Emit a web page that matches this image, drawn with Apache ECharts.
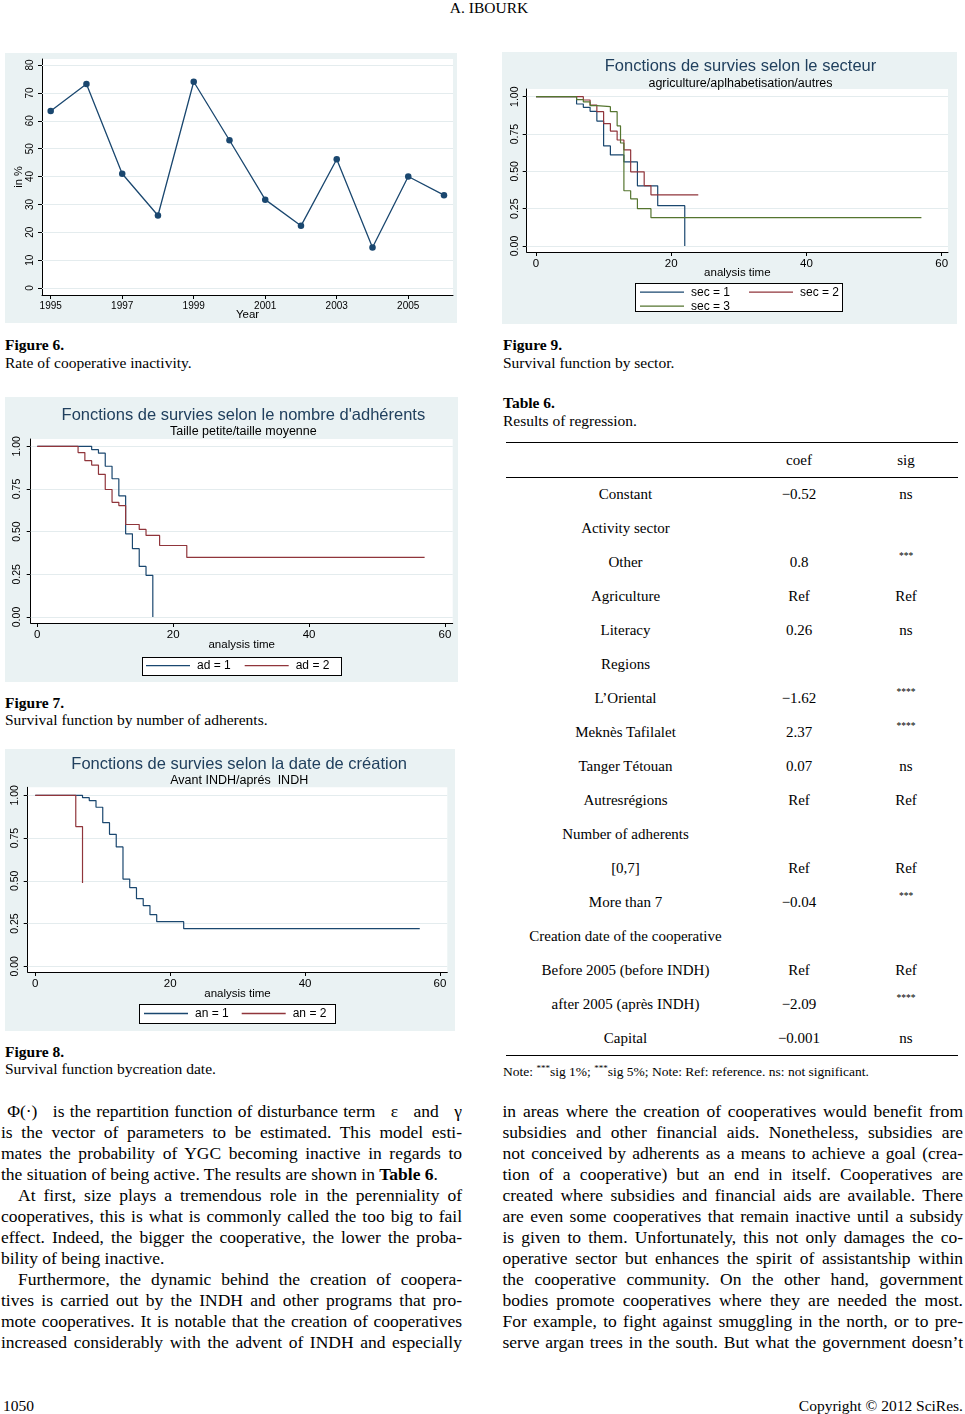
<!DOCTYPE html>
<html><head><meta charset="utf-8">
<script src="https://cdn.jsdelivr.net/npm/echarts@6/dist/echarts.min.js"></script>
<style>
html,body{margin:0;padding:0;background:#fff;}
body{width:965px;height:1414px;position:relative;overflow:hidden;font-family:"Liberation Serif","Times New Roman",serif;color:#000;}
.panel{position:absolute;background:#eaf2f3;}
.lgbox{position:absolute;background:#fff;border:1px solid #000;box-sizing:border-box;}
.chart{position:absolute;}
.t{position:absolute;white-space:nowrap;}
.cap{font-size:15.5px;line-height:18px;}
.ln{position:absolute;font-size:17.5px;line-height:21px;white-space:normal;}
.jl{text-align:justify;text-align-last:justify;}
.rule{position:absolute;left:506px;width:452px;height:1.3px;background:#000;}
.cell{position:absolute;font-size:15px;line-height:18px;text-align:center;white-space:nowrap;}
.star{position:absolute;font-size:9.5px;line-height:10px;text-align:center;white-space:nowrap;}
sup{font-size:9px;line-height:0;vertical-align:5px;}
</style>
</head>
<body>
<script>
// ---------------- DATA ----------------
const years = [1995,1996,1997,1998,1999,2000,2001,2002,2003,2004,2005,2006];
const inactivityRate = [63.5,73.2,41,26,74,53,31.7,22.3,46.2,14.5,40,33.3];
const yearTickLabels = [1995,1997,1999,2001,2003,2005];
const rateTickLabels = [0,10,20,30,40,50,60,70,80];
const timeTickLabels = [0,20,40,60];
const survTickLabels = [0,0.25,0.5,0.75,1];

const ad1Time = [0,8,9,10,11,12,13,14,15,16,17];
const ad1Surv = [1,0.98,0.96,0.883,0.81,0.71,0.487,0.40,0.296,0.244,0];
const ad2Time = [0,6,7,8,9,10,11,12,13,15,16,18,22,57];
const ad2Surv = [1,0.963,0.916,0.89,0.836,0.747,0.672,0.653,0.542,0.513,0.478,0.419,0.349,0.349];

const an1Time = [0,7,8,9,10,11,12,13,14,15,16,17,18,22,57];
const an1Surv = [1,0.986,0.969,0.93,0.84,0.772,0.698,0.51,0.46,0.396,0.355,0.302,0.261,0.22,0.22];
const an2Time = [0,6,7];
const an2Surv = [1,0.817,0.487];

const sec1Time = [0,6,7,8,9,10,11,13,15,18,22];
const sec1Surv = [1,0.951,0.929,0.902,0.837,0.67,0.61,0.563,0.403,0.27,0];
const sec2Time = [0,7,8,9,10,11,12,13,14,16,17,24];
const sec2Surv = [1,0.978,0.944,0.90,0.82,0.77,0.71,0.644,0.497,0.405,0.343,0.343];
const sec3Time = [0,6,7,8,9,11,12,12.5,13,14,15,17,57];
const sec3Surv = [1,0.98,0.965,0.94,0.933,0.90,0.805,0.69,0.37,0.316,0.25,0.19,0.19];

const tableHeader = ['', 'coef', 'sig'];
const tableRows = [
  ['Constant','\u22120.52','ns'],
  ['Activity sector','',''],
  ['Other','0.8','***'],
  ['Agriculture','Ref','Ref'],
  ['Literacy','0.26','ns'],
  ['Regions','',''],
  ['L\u2019Oriental','\u22121.62','****'],
  ['Mekn\u00e8s Tafilalet','2.37','****'],
  ['Tanger T\u00e9touan','0.07','ns'],
  ['Autresr\u00e9gions','Ref','Ref'],
  ['Number of adherents','',''],
  ['[0,7]','Ref','Ref'],
  ['More than 7','\u22120.04','***'],
  ['Creation date of the cooperative','',''],
  ['Before 2005 (before INDH)','Ref','Ref'],
  ['after 2005 (apr\u00e8s INDH)','\u22122.09','****'],
  ['Capital','\u22120.001','ns']
];
</script>

<!-- header / footer -->
<div class="t" style="left:0;width:978px;top:0;text-align:center;font-size:15.5px;line-height:16px;">A. IBOURK</div>
<div class="t" style="left:3px;top:1397px;font-size:15.5px;line-height:18px;">1050</div>
<div class="t" style="right:2px;top:1397px;font-size:15.5px;line-height:18px;">Copyright © 2012 SciRes.</div>

<!-- Figure 6 -->
<div class="panel" style="left:5px;top:53px;width:452px;height:270px;"></div>
<div class="chart" id="fig6"></div>
<div class="t cap" style="left:5px;top:336px;font-weight:bold;">Figure 6.</div>
<div class="t cap" style="left:5px;top:354px;">Rate of cooperative inactivity.</div>

<!-- Figure 9 -->
<div class="panel" style="left:502px;top:52px;width:455px;height:272px;"></div>
<div class="lgbox" style="left:635px;top:283px;width:208px;height:29px;"></div>
<div class="chart" id="fig9"></div>
<div class="t cap" style="left:503px;top:336px;font-weight:bold;">Figure 9.</div>
<div class="t cap" style="left:503px;top:354px;">Survival function by sector.</div>

<!-- Figure 7 -->
<div class="panel" style="left:5px;top:397px;width:453px;height:285px;"></div>
<div class="lgbox" style="left:141.7px;top:656.7px;width:200px;height:19px;"></div>
<div class="chart" id="fig7"></div>
<div class="t cap" style="left:5px;top:694px;font-weight:bold;">Figure 7.</div>
<div class="t cap" style="left:5px;top:711px;">Survival function by number of adherents.</div>

<!-- Figure 8 -->
<div class="panel" style="left:5px;top:749px;width:450px;height:282px;"></div>
<div class="lgbox" style="left:139.3px;top:1004px;width:196.7px;height:20px;"></div>
<div class="chart" id="fig8"></div>
<div class="t cap" style="left:5px;top:1043px;font-weight:bold;">Figure 8.</div>
<div class="t cap" style="left:5px;top:1060px;">Survival function bycreation date.</div>

<!-- Table 6 -->
<div class="t cap" style="left:503px;top:394px;font-weight:bold;">Table 6.</div>
<div class="t cap" style="left:503px;top:412px;">Results of regression.</div>
<div class="rule" style="top:442px;"></div>
<div class="rule" style="top:476.5px;"></div>
<div class="rule" style="top:1055px;"></div>
<div id="table"></div>
<div class="t" style="left:503px;top:1063px;font-size:13.5px;line-height:18px;">Note: <sup>***</sup>sig 1%; <sup>***</sup>sig 5%; Note: Ref: reference. ns: not significant.</div>

<!-- Body text left -->
<div class="ln jl" style="left:2px;width:460px;top:1101px;">&nbsp;Φ(·)&nbsp;&nbsp; is the repartition function of disturbance term &nbsp;&nbsp;ε&nbsp;&nbsp; and &nbsp;&nbsp;γ</div>
<div class="ln jl" style="left:1px;width:461px;top:1122px;">is the vector of parameters to be estimated. This model esti-</div>
<div class="ln jl" style="left:1px;width:461px;top:1143px;">mates the probability of YGC becoming inactive in regards to</div>
<div class="ln" style="left:1px;width:461px;top:1164px;">the situation of being active. The results are shown in <b>Table 6</b>.</div>
<div class="ln jl" style="left:1px;width:461px;top:1185px;text-indent:17px;">At first, size plays a tremendous role in the perenniality of</div>
<div class="ln jl" style="left:1px;width:461px;top:1206px;">cooperatives, this is what is commonly called the too big to fail</div>
<div class="ln jl" style="left:1px;width:461px;top:1227px;">effect. Indeed, the bigger the cooperative, the lower the proba-</div>
<div class="ln" style="left:1px;width:461px;top:1248px;">bility of being inactive.</div>
<div class="ln jl" style="left:1px;width:461px;top:1269px;text-indent:17px;">Furthermore, the dynamic behind the creation of coopera-</div>
<div class="ln jl" style="left:1px;width:461px;top:1290px;">tives is carried out by the INDH and other programs that pro-</div>
<div class="ln jl" style="left:1px;width:461px;top:1311px;">mote cooperatives. It is notable that the creation of cooperatives</div>
<div class="ln jl" style="left:1px;width:461px;top:1332px;">increased considerably with the advent of INDH and especially</div>

<!-- Body text right -->
<div class="ln jl" style="left:502.5px;width:460.5px;top:1101px;">in areas where the creation of cooperatives would benefit from</div>
<div class="ln jl" style="left:502.5px;width:460.5px;top:1122px;">subsidies and other financial aids. Nonetheless, subsidies are</div>
<div class="ln jl" style="left:502.5px;width:460.5px;top:1143px;">not conceived by adherents as a means to achieve a goal (crea-</div>
<div class="ln jl" style="left:502.5px;width:460.5px;top:1164px;">tion of a cooperative) but an end in itself. Cooperatives are</div>
<div class="ln jl" style="left:502.5px;width:460.5px;top:1185px;">created where subsidies and financial aids are available. There</div>
<div class="ln jl" style="left:502.5px;width:460.5px;top:1206px;">are even some cooperatives that remain inactive until a subsidy</div>
<div class="ln jl" style="left:502.5px;width:460.5px;top:1227px;">is given to them. Unfortunately, this not only damages the co-</div>
<div class="ln jl" style="left:502.5px;width:460.5px;top:1248px;">operative sector but enhances the spirit of assistantship within</div>
<div class="ln jl" style="left:502.5px;width:460.5px;top:1269px;">the cooperative community. On the other hand, government</div>
<div class="ln jl" style="left:502.5px;width:460.5px;top:1290px;">bodies promote cooperatives where they are needed the most.</div>
<div class="ln jl" style="left:502.5px;width:460.5px;top:1311px;">For example, to fight against smuggling in the north, or to pre-</div>
<div class="ln jl" style="left:502.5px;width:460.5px;top:1332px;">serve argan trees in the south. But what the government doesn’t</div>

<script>
// ---------- table ----------
(function(){
  const host = document.getElementById('table');
  const colL = [506, 740, 860], colW = [239, 118, 92];
  function cell(txt, col, yc){
    const d = document.createElement('div');
    const isStar = /^\*+$/.test(txt);
    d.className = isStar ? 'star' : 'cell';
    d.style.left = colL[col] + 'px';
    d.style.width = colW[col] + 'px';
    d.style.top = (isStar ? (yc - 11) : (yc - 9)) + 'px';
    d.textContent = txt;
    host.appendChild(d);
  }
  tableHeader.forEach((h, c) => { if (h) cell(h, c, 459.5); });
  tableRows.forEach((r, i) => {
    const yc = 494 + i * 34;
    r.forEach((v, c) => { if (v) cell(v, c, yc); });
  });
})();

// ---------- charts ----------
const SANS = '"Liberation Sans", Arial, sans-serif';
const NAVY = '#1a476f', MAROON = '#90353b', GREEN = '#55752f';
const TITLE_COLOR = '#21405e';
const GRIDLINE = '#e4ecee';

function pairs(xs, ys){ return xs.map((x, i) => [x, ys[i]]); }
// axis extent so that value v0 sits at pixel p0 and v1 at p1, for a plot spanning pa..pb
function extentFor(v0, p0, v1, p1, pa, pb){
  const k = (p1 - p0) / (v1 - v0);
  const a = v0 + (pa - p0) / k, b = v0 + (pb - p0) / k;
  return [Math.min(a, b), Math.max(a, b)];
}

function makeChart(id, L){
  // L.panel / L.plot: [left, top, right, bottom] in page px
  const el = document.getElementById(id);
  el.style.left = L.panel[0] + 'px'; el.style.top = L.panel[1] + 'px';
  el.style.width = (L.panel[2] - L.panel[0]) + 'px'; el.style.height = (L.panel[3] - L.panel[1]) + 'px';
  const ch = echarts.init(el);
  const xe = extentFor(L.x[0], L.x[1], L.x[2], L.x[3], L.plot[0], L.plot[2]);
  const ye = extentFor(L.y[0], L.y[1], L.y[2], L.y[3], L.plot[3], L.plot[1]);
  const grid = {
    left: L.plot[0] - L.panel[0], top: L.plot[1] - L.panel[1],
    right: L.panel[2] - L.plot[2], bottom: L.panel[3] - L.plot[3],
    show: true, backgroundColor: '#fff', borderWidth: 0,
    containLabel: false, outerBoundsMode: 'none'
  };
  return {ch, xe, ye, grid};
}

function axisCommon(){
  return {
    axisLine: {show: true, onZero: false, lineStyle: {color: '#000', width: 1}},
    splitLine: {show: false},
    nameMoveOverlap: false
  };
}

// Figure 6
(function(){
  const {ch, xe, ye, grid} = makeChart('fig6', {
    panel: [5, 53, 457, 323], plot: [42, 59, 453, 295],
    x: [1995, 50.7, 2006, 444], y: [0, 288, 80, 65]
  });
  ch.setOption({
    animation: false,
    grid,
    xAxis: Object.assign(axisCommon(), {
      type: 'value', min: xe[0], max: xe[1],
      axisTick: {show: true, length: 4, lineStyle: {color: '#000'}, customValues: yearTickLabels},
      axisLabel: {color: '#000', fontFamily: SANS, fontSize: 10, margin: 6, customValues: yearTickLabels,
        formatter: v => String(v)},
      name: 'Year', nameLocation: 'middle', nameGap: 14,
      nameTextStyle: {color: '#000', fontFamily: SANS, fontSize: 11.5}
    }),
    yAxis: Object.assign(axisCommon(), {
      type: 'value', min: ye[0], max: ye[1],
      axisTick: {show: true, length: 4, lineStyle: {color: '#000'}, customValues: rateTickLabels},
      axisLabel: {color: '#000', fontFamily: SANS, fontSize: 10, rotate: 90, margin: 7, customValues: rateTickLabels,
        formatter: v => String(v)},
      name: 'in %', nameLocation: 'middle', nameGap: 18, nameRotate: 90,
      nameTextStyle: {color: '#000', fontFamily: SANS, fontSize: 11}
    }),
    series: [{
      type: 'line', data: pairs(years, inactivityRate), z: 3,
      symbol: 'circle', symbolSize: 6.5,
      lineStyle: {color: NAVY, width: 1.3}, itemStyle: {color: NAVY},
      markLine: {silent: true, symbol: 'none', z: 1, animation: false, label: {show: false},
        lineStyle: {color: GRIDLINE, type: 'solid', width: 1},
        data: rateTickLabels.map(v => ({yAxis: v}))}
    }]
  });
})();

function survivalChart(id, cfg){
  const {ch, xe, ye, grid} = makeChart(id, cfg);
  const pw = cfg.panel[0];
  ch.setOption({
    animation: false,
    title: {
      text: cfg.title, subtext: cfg.subtitle,
      left: cfg.titleX - pw, top: cfg.titleTop - cfg.panel[1], textAlign: 'center', itemGap: 2, padding: 0,
      textStyle: {fontFamily: SANS, fontSize: 16.5, fontWeight: 'normal', color: TITLE_COLOR},
      subtextStyle: {fontFamily: SANS, fontSize: 12.5, color: '#000'}
    },
    grid,
    xAxis: Object.assign(axisCommon(), {
      type: 'value', min: xe[0], max: xe[1],
      axisTick: {show: true, length: 4, lineStyle: {color: '#000'}, customValues: timeTickLabels},
      axisLabel: {color: '#000', fontFamily: SANS, fontSize: 11.5, margin: 5.5, customValues: timeTickLabels,
        formatter: v => String(v)},
      name: 'analysis time', nameLocation: 'middle', nameGap: cfg.nameGap,
      nameTextStyle: {color: '#000', fontFamily: SANS, fontSize: 11.5}
    }),
    yAxis: Object.assign(axisCommon(), {
      type: 'value', min: ye[0], max: ye[1],
      axisTick: {show: true, length: 4, lineStyle: {color: '#000'}, customValues: survTickLabels},
      axisLabel: {color: '#000', fontFamily: SANS, fontSize: 10.5, rotate: 90, margin: cfg.yLabelMargin,
        customValues: survTickLabels, formatter: v => Number(v).toFixed(2)}
    }),
    legend: cfg.legends.map(l => ({
      data: l.names, left: l.left - pw, top: l.cy - cfg.panel[1] - 6.5, orient: 'horizontal', padding: 0,
      icon: 'rect', itemWidth: 44, itemHeight: 1.3, itemGap: l.gap, selectedMode: false,
      textStyle: {fontFamily: SANS, fontSize: 12, color: '#000', width: 40, padding: [0, 0, 0, 2]}
    })),
    series: cfg.series.map((s, i) => ({
      name: s.name, type: 'line', step: 'end', data: pairs(s.t, s.s), z: 3,
      symbol: 'none', showSymbol: false,
      lineStyle: {color: s.color, width: 1.2}, itemStyle: {color: s.color},
      markLine: i === 0 ? {silent: true, symbol: 'none', z: 1, animation: false, label: {show: false},
        lineStyle: {color: GRIDLINE, type: 'solid', width: 1},
        data: survTickLabels.map(v => ({yAxis: v}))} : undefined
    }))
  });
}

survivalChart('fig7', {
  panel: [5, 397, 458, 682], plot: [30.7, 439, 452.7, 623],
  x: [0, 37.3, 60, 445], y: [0, 617, 1, 446.3],
  title: "Fonctions de survies selon le nombre d'adhérents",
  subtitle: 'Taille petite/taille moyenne',
  titleX: 243.4, titleTop: 406.5,
  nameGap: 15.5, yLabelMargin: 8,
  legends: [{names: ['ad = 1', 'ad = 2'], left: 146, cy: 666.2, gap: 14}],
  series: [
    {name: 'ad = 1', t: ad1Time, s: ad1Surv, color: NAVY},
    {name: 'ad = 2', t: ad2Time, s: ad2Surv, color: MAROON}
  ]
});

survivalChart('fig8', {
  panel: [5, 749, 455, 1031], plot: [27.7, 787.3, 447.3, 972],
  x: [0, 35.3, 60, 440], y: [0, 966.3, 1, 795.3],
  title: 'Fonctions de survies selon la date de création',
  subtitle: 'Avant INDH/aprés  INDH',
  titleX: 239.2, titleTop: 755.5,
  nameGap: 16, yLabelMargin: 7,
  legends: [{names: ['an = 1', 'an = 2'], left: 144, cy: 1014, gap: 13}],
  series: [
    {name: 'an = 1', t: an1Time, s: an1Surv, color: NAVY},
    {name: 'an = 2', t: an2Time, s: an2Surv, color: MAROON}
  ]
});

survivalChart('fig9', {
  panel: [502, 52, 957, 324], plot: [526.7, 89, 948, 252],
  x: [0, 536, 60, 941.7], y: [0, 246, 1, 96.7],
  title: 'Fonctions de survies selon le secteur',
  subtitle: 'agriculture/aplhabetisation/autres',
  titleX: 740.5, titleTop: 58.2,
  nameGap: 15, yLabelMargin: 6.5,
  legends: [
    {names: ['sec = 1', 'sec = 2'], left: 640, cy: 292.7, gap: 19},
    {names: ['sec = 3'], left: 640, cy: 306.7, gap: 19}
  ],
  series: [
    {name: 'sec = 1', t: sec1Time, s: sec1Surv, color: NAVY},
    {name: 'sec = 2', t: sec2Time, s: sec2Surv, color: MAROON},
    {name: 'sec = 3', t: sec3Time, s: sec3Surv, color: GREEN}
  ]
});
</script>
</body></html>
